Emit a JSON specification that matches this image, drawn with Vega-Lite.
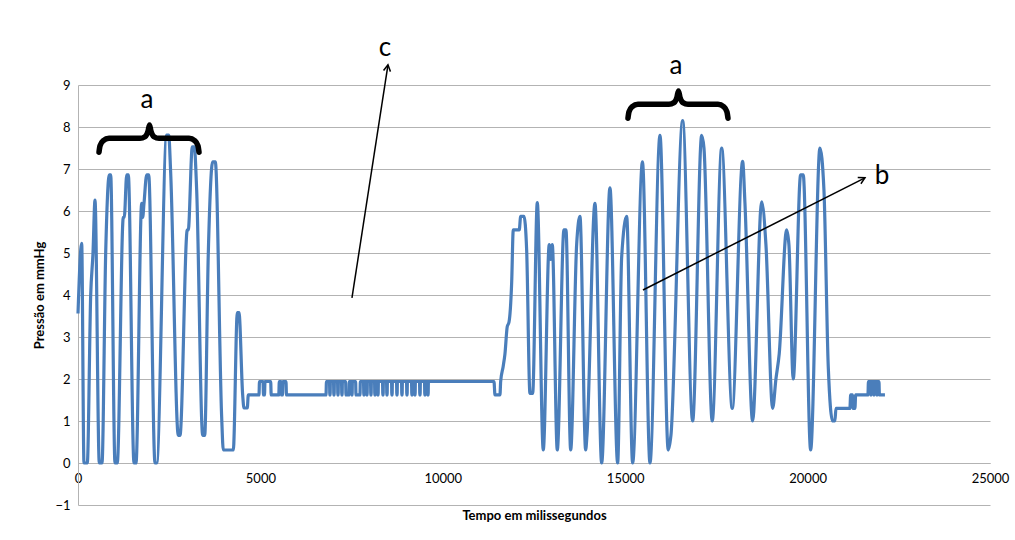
{
  "$schema": "https://vega.github.io/schema/vega-lite/v6.json",
  "width": 912,
  "height": 420,
  "autosize": "none",
  "padding": {"left": 78, "top": 85, "right": 25, "bottom": 35},
  "background": "white",
  "config": {
    "view": {"stroke": null},
    "font": "Lato",
    "axis": {"labelFont": "Lato", "titleFont": "Lato", "labelColor": "#000000", "titleColor": "#000000"}
  },
  "datasets": {
    "series": [
      {"t":0,"p":3.56},{"t":101,"p":5.23},{"t":164,"p":0},{"t":255,"p":0},{"t":348,"p":4.0},{"t":411,"p":5.0},{"t":466,"p":6.26},
      {"t":584,"p":0},{"t":658,"p":0},{"t":759,"p":5.0},{"t":858,"p":6.86},{"t":896,"p":6.86},{"t":1014,"p":0},{"t":1077,"p":0},
      {"t":1242,"p":5.85},{"t":1269,"p":5.85},{"t":1335,"p":6.86},{"t":1379,"p":6.86},{"t":1535,"p":0},{"t":1590,"p":0},
      {"t":1746,"p":6.18},{"t":1773,"p":5.85},{"t":1809,"p":6.18},{"t":1883,"p":6.86},{"t":1938,"p":6.86},{"t":2111,"p":0},{"t":2157,"p":0},
      {"t":2431,"p":7.81},{"t":2486,"p":7.81},{"t":2541,"p":6.9},{"t":2749,"p":0.66},{"t":2796,"p":0.66},
      {"t":2996,"p":5.55},{"t":3023,"p":5.55},{"t":3133,"p":7.53},{"t":3188,"p":7.53},{"t":3253,"p":6.5},{"t":3418,"p":0.66},{"t":3473,"p":0.66},
      {"t":3572,"p":5.0},{"t":3692,"p":7.17},{"t":3764,"p":7.17},{"t":3938,"p":1.1},{"t":3983,"p":0.31},{"t":4257,"p":0.31},
      {"t":4367,"p":3.58},{"t":4413,"p":3.58},{"t":4514,"p":1.62},{"t":4550,"p":1.31},{"t":4641,"p":1.31},{"t":4668,"p":1.62},
      {"t":4961,"p":1.62},{"t":4975,"p":1.94},{"t":5071,"p":1.94},{"t":5085,"p":1.62},{"t":5112,"p":1.62},{"t":5126,"p":1.94},
      {"t":5282,"p":1.94},{"t":5296,"p":1.62},{"t":5504,"p":1.62},{"t":5518,"p":1.94},{"t":5564,"p":1.94},{"t":5578,"p":1.62},
      {"t":5605,"p":1.62},{"t":5619,"p":1.94},{"t":5701,"p":1.94},{"t":5715,"p":1.62},{"t":6798,"p":1.62},{"t":6811,"p":1.94},
      {"t":6895,"p":1.94},{"t":6903,"p":1.62},{"t":6911,"p":1.62},{"t":6919,"p":1.94},
      {"t":7005,"p":1.94},{"t":7013,"p":1.62},{"t":7021,"p":1.62},{"t":7029,"p":1.94},
      {"t":7115,"p":1.94},{"t":7123,"p":1.62},{"t":7131,"p":1.62},{"t":7139,"p":1.94},
      {"t":7224,"p":1.94},{"t":7232,"p":1.62},{"t":7240,"p":1.62},{"t":7248,"p":1.94},
      {"t":7336,"p":1.94},{"t":7346,"p":1.62},{"t":7428,"p":1.62},{"t":7438,"p":1.94},
      {"t":7498,"p":1.94},{"t":7506,"p":1.62},{"t":7514,"p":1.62},{"t":7522,"p":1.94},
      {"t":7610,"p":1.94},{"t":7620,"p":1.62},{"t":7730,"p":1.62},{"t":7740,"p":1.94},
      {"t":7827,"p":1.94},{"t":7835,"p":1.62},{"t":7843,"p":1.62},{"t":7851,"p":1.94},
      {"t":7909,"p":1.94},{"t":7917,"p":1.62},{"t":7925,"p":1.62},{"t":7933,"p":1.94},
      {"t":8019,"p":1.94},{"t":8027,"p":1.62},{"t":8035,"p":1.62},{"t":8043,"p":1.94},
      {"t":8129,"p":1.94},{"t":8137,"p":1.62},{"t":8145,"p":1.62},{"t":8153,"p":1.94},
      {"t":8211,"p":1.94},{"t":8219,"p":1.62},{"t":8227,"p":1.62},{"t":8235,"p":1.94},
      {"t":8348,"p":1.94},{"t":8356,"p":1.62},{"t":8364,"p":1.62},{"t":8372,"p":1.94},
      {"t":8458,"p":1.94},{"t":8466,"p":1.62},{"t":8474,"p":1.62},{"t":8482,"p":1.94},
      {"t":8595,"p":1.94},{"t":8603,"p":1.62},{"t":8611,"p":1.62},{"t":8619,"p":1.94},
      {"t":8732,"p":1.94},{"t":8740,"p":1.62},{"t":8748,"p":1.62},{"t":8756,"p":1.94},
      {"t":8869,"p":1.94},{"t":8877,"p":1.62},{"t":8885,"p":1.62},{"t":8893,"p":1.94},
      {"t":9006,"p":1.94},{"t":9014,"p":1.62},{"t":9022,"p":1.62},{"t":9030,"p":1.94},
      {"t":9143,"p":1.94},{"t":9151,"p":1.62},{"t":9159,"p":1.62},{"t":9167,"p":1.94},
      {"t":9225,"p":1.94},{"t":9233,"p":1.62},{"t":9241,"p":1.62},{"t":9249,"p":1.94},
      {"t":9362,"p":1.94},{"t":9370,"p":1.62},{"t":9378,"p":1.62},{"t":9386,"p":1.94},
      {"t":9499,"p":1.94},{"t":9507,"p":1.62},{"t":9515,"p":1.62},{"t":9523,"p":1.94},
      {"t":9582,"p":1.94},{"t":9590,"p":1.62},{"t":9598,"p":1.62},{"t":9606,"p":1.94},
      {"t":11403,"p":1.94},{"t":11430,"p":1.62},{"t":11567,"p":1.62},{"t":11586,"p":1.94},
      {"t":11655,"p":2.3},{"t":11704,"p":2.6},{"t":11767,"p":3.25},{"t":11814,"p":3.35},{"t":11888,"p":4.3},{"t":11932,"p":5.55},
      {"t":12096,"p":5.55},{"t":12134,"p":5.87},{"t":12225,"p":5.87},{"t":12299,"p":5.06},{"t":12389,"p":1.66},{"t":12463,"p":1.66},
      {"t":12590,"p":6.2},{"t":12754,"p":0.31},{"t":12918,"p":5.2},{"t":12957,"p":4.85},{"t":13001,"p":5.2},{"t":13138,"p":0.31},
      {"t":13321,"p":5.55},{"t":13376,"p":5.55},{"t":13505,"p":0.31},{"t":13669,"p":5.2},{"t":13760,"p":5.87},{"t":13916,"p":0.31},
      {"t":13952,"p":0.66},{"t":14171,"p":6.18},{"t":14355,"p":0},{"t":14582,"p":6.55},{"t":14793,"p":0},{"t":14903,"p":4.9},
      {"t":15040,"p":5.87},{"t":15204,"p":0},{"t":15473,"p":7.17},{"t":15679,"p":0},{"t":15953,"p":7.8},{"t":16180,"p":0.31},
      {"t":16254,"p":0.66},{"t":16575,"p":8.15},{"t":16849,"p":1.0},{"t":17096,"p":7.8},{"t":17159,"p":7.5},{"t":17386,"p":1.0},
      {"t":17644,"p":7.5},{"t":17934,"p":1.3},{"t":18219,"p":7.18},{"t":18282,"p":6.2},{"t":18493,"p":1.0},{"t":18740,"p":6.22},
      {"t":18858,"p":5.2},{"t":19041,"p":1.3},{"t":19132,"p":2.0},{"t":19222,"p":2.6},{"t":19425,"p":5.55},{"t":19488,"p":5.2},
      {"t":19606,"p":2.0},{"t":19809,"p":6.86},{"t":19880,"p":6.86},{"t":20083,"p":0.31},{"t":20338,"p":7.5},{"t":20448,"p":6.5},
      {"t":20566,"p":2.3},{"t":20686,"p":1.0},{"t":20749,"p":1.0},{"t":20777,"p":1.3},{"t":21160,"p":1.3},{"t":21180,"p":1.62},
      {"t":21229,"p":1.62},{"t":21243,"p":1.3},{"t":21298,"p":1.3},{"t":21317,"p":1.62},{"t":21654,"p":1.62},{"t":21668,"p":1.94},
      {"t":21724,"p":1.94},{"t":21732,"p":1.62},{"t":21740,"p":1.62},{"t":21748,"p":1.94},
      {"t":21806,"p":1.94},{"t":21814,"p":1.62},{"t":21822,"p":1.62},{"t":21830,"p":1.94},
      {"t":21888,"p":1.94},{"t":21896,"p":1.62},{"t":21904,"p":1.62},{"t":21912,"p":1.94},
      {"t":21956,"p":1.94},{"t":21969,"p":1.62},{"t":22120,"p":1.62}
    ],
    "braces": [
      {"brace":1,"t":576,"p":7.40},{"brace":1,"t":603,"p":7.55},{"brace":1,"t":685,"p":7.67},{"brace":1,"t":850,"p":7.73},
      {"brace":1,"t":1699,"p":7.73},{"brace":1,"t":1836,"p":7.77},{"brace":1,"t":1919,"p":7.90},{"brace":1,"t":1960,"p":8.05},
      {"brace":1,"t":2001,"p":7.90},{"brace":1,"t":2083,"p":7.77},{"brace":1,"t":2220,"p":7.73},{"brace":1,"t":3043,"p":7.73},
      {"brace":1,"t":3207,"p":7.67},{"brace":1,"t":3289,"p":7.55},{"brace":1,"t":3317,"p":7.40},
      {"brace":2,"t":15076,"p":8.21},{"brace":2,"t":15103,"p":8.36},{"brace":2,"t":15185,"p":8.48},{"brace":2,"t":15350,"p":8.54},
      {"brace":2,"t":16199,"p":8.54},{"brace":2,"t":16336,"p":8.58},{"brace":2,"t":16419,"p":8.71},{"brace":2,"t":16460,"p":8.86},
      {"brace":2,"t":16501,"p":8.71},{"brace":2,"t":16583,"p":8.58},{"brace":2,"t":16720,"p":8.54},{"brace":2,"t":17543,"p":8.54},
      {"brace":2,"t":17707,"p":8.48},{"brace":2,"t":17789,"p":8.36},{"brace":2,"t":17817,"p":8.21}
    ],
    "labels": [
      {"label":"a","t":1891,"p":8.64},
      {"label":"a","t":16391,"p":9.45},
      {"label":"c","t":8415,"p":9.88},
      {"label":"b","t":22038,"p":6.83}
    ],
    "arrows": [
      {"arrow":"c","t":7510,"p":3.93,"t2":8497,"p2":9.48},
      {"arrow":"b","t":15487,"p":4.12,"t2":21572,"p2":6.79}
    ]
  },
  "encoding": {
    "x": {"field":"t","type":"quantitative",
      "scale":{"domain":[0,25000],"nice":false,"zero":false},
      "axis":{"title":"Tempo em milissegundos","values":[0,5000,10000,15000,20000,25000],"format":"d",
        "offset":-42,"grid":false,"ticks":false,"domainColor":"#b3b3b3","labelFontSize":13,"labelPadding":9,
        "labelFlush":false,"titleFontSize":13,"titleFontWeight":"bold","titlePadding":24}},
    "y": {"field":"p","type":"quantitative",
      "scale":{"domain":[-1,9],"nice":false,"zero":false},
      "axis":{"title":"Pressão em mmHg","values":[-1,0,1,2,3,4,5,6,7,8,9],"format":"d",
        "grid":true,"gridColor":"#b3b3b3","gridWidth":1,"ticks":false,"domainColor":"#b3b3b3",
        "labelFontSize":13,"labelPadding":8,"titleFontSize":13,"titleFontWeight":"bold","titlePadding":8}}
  },
  "layer": [
    {"data":{"name":"series"},
     "mark":{"type":"line","color":"#4a7ebb","strokeWidth":3.2,"interpolate":"monotone"}},
    {"data":{"name":"braces"},
     "mark":{"type":"line","color":"#000000","strokeWidth":5.5,"strokeCap":"round","strokeJoin":"round","interpolate":"monotone"},
     "encoding":{"detail":{"field":"brace","type":"nominal"}}},
    {"data":{"name":"labels"},
     "mark":{"type":"text","fontSize":26,"font":"Lato","color":"#000000","align":"center","baseline":"middle"},
     "encoding":{"text":{"field":"label","type":"nominal"}}},
    {"data":{"name":"arrows"},
     "mark":{"type":"rule","color":"#000000","strokeWidth":1.5},
     "encoding":{"x2":{"field":"t2"},"y2":{"field":"p2"}}},
    {"data":{"name":"arrows"},
     "transform":[{"filter":"datum.arrow === 'c'"}],
     "mark":{"type":"point","shape":"M-0.55,1L0,0L0.55,1","filled":false,"stroke":"#000000","strokeWidth":1.5,"size":160,"angle":8.8,"opacity":1},
     "encoding":{"x":{"field":"t2","type":"quantitative"},"y":{"field":"p2","type":"quantitative"}}},
    {"data":{"name":"arrows"},
     "transform":[{"filter":"datum.arrow === 'b'"}],
     "mark":{"type":"point","shape":"M-0.55,1L0,0L0.55,1","filled":false,"stroke":"#000000","strokeWidth":1.5,"size":160,"angle":63,"opacity":1},
     "encoding":{"x":{"field":"t2","type":"quantitative"},"y":{"field":"p2","type":"quantitative"}}}
  ]
}
